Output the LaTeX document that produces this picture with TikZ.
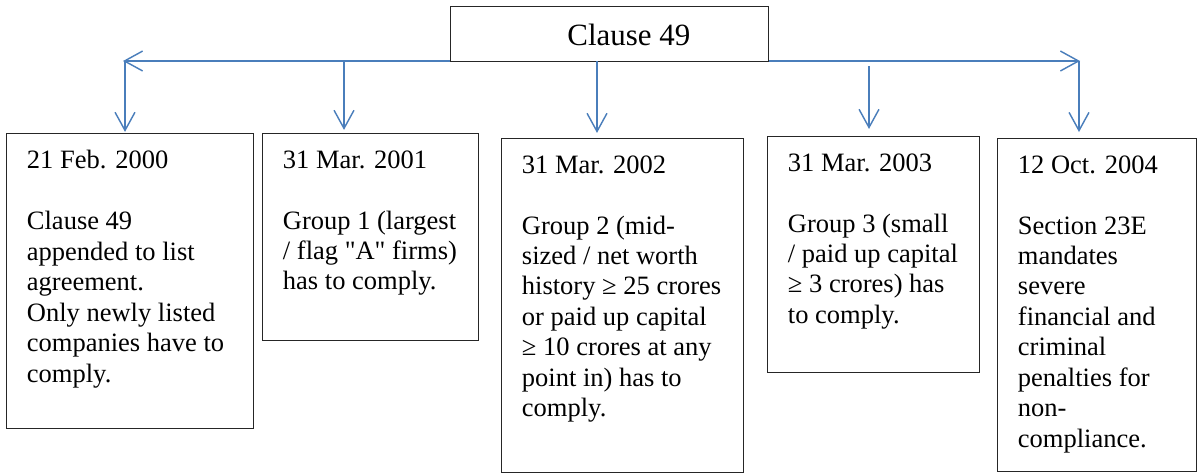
\documentclass[tikz,border=0pt]{standalone}
\usepackage{fontspec}
\setmainfont{Liberation Serif}
\usetikzlibrary{arrows.meta}
\definecolor{linkblue}{HTML}{4A7EBB}

\begin{document}
\begin{tikzpicture}[
  x=0.4528pt,y=-0.4528pt,
  flow/.style={-{Straight Barb[length=8.2pt,width=9pt]},line width=0.65pt,draw=linkblue},
  bus/.style={{Straight Barb[length=8.2pt,width=9pt]}-{Straight Barb[length=8.2pt,width=9pt]},line width=0.65pt,draw=linkblue},
  datebox/.style={draw=black!85,line width=0.5pt,fill=white,anchor=north west,inner sep=0pt},
  boxtext/.style={anchor=north west,align=left,inner sep=0pt,
    font=\fontsize{12}{13.8}\selectfont}
]
\useasboundingbox (0,0) rectangle (1198,473);
% bus line under the heading
\coordinate (busl) at (123,61);
\coordinate (busr) at (1080,61);
\draw[bus] (busl) -- (busr);
\node[draw=black!85,line width=0.5pt,fill=white,minimum width=143.7pt,minimum height=24.6pt,inner sep=0pt]
  (clause) at (609.4,34) {};
\node[anchor=base west,inner sep=0pt,font=\fontsize{14}{16}\selectfont] (cltext) at (567,45) {Clause 49};
% the five stages
\node[datebox,minimum width=111.8pt,minimum height=133.6pt] (feb00) at (6,133) {};
\node[datebox,minimum width=97.8pt,minimum height=93.7pt] (mar01) at (262,133) {};
\node[datebox,minimum width=109.6pt,minimum height=151.2pt] (mar02) at (501,138) {};
\node[datebox,minimum width=96pt,minimum height=106.9pt] (mar03) at (767,136) {};
\node[datebox,minimum width=90.1pt,minimum height=150.8pt] (oct04) at (997,138) {};
\node[boxtext] (feb00txt) at ([shift={(20.5,17)}]feb00.north west)
  {21 Feb. 2000\\[13.8pt]Clause 49\\appended to list\\agreement.\\Only newly listed\\companies have to\\comply.};
\node[boxtext] (mar01txt) at ([shift={(20.5,17)}]mar01.north west)
  {31 Mar. 2001\\[13.8pt]Group 1 (largest\\/ flag \textquotedbl A\textquotedbl{} firms)\\has to comply.};
\node[boxtext] (mar02txt) at ([shift={(20.5,17)}]mar02.north west)
  {31 Mar. 2002\\[13.8pt]Group 2 (mid-\\sized / net worth\\history ≥ 25 crores\\or paid up capital\\≥ 10 crores at any\\point in) has to\\comply.};
\node[boxtext] (mar03txt) at ([shift={(20.5,17)}]mar03.north west)
  {31 Mar. 2003\\[13.8pt]Group 3 (small\\/ paid up capital\\≥ 3 crores) has\\to comply.};
\node[boxtext] (oct04txt) at ([shift={(20.5,17)}]oct04.north west)
  {12 Oct. 2004\\[13.8pt]Section 23E\\mandates\\severe\\financial and\\criminal\\penalties for\\non-\\compliance.};
% drops from the bus
\coordinate (d1) at (125,61);
\coordinate (d2) at (344,61);
\coordinate (d3) at (597,61);
\coordinate (d4) at (869,66);
\coordinate (d5) at (1079,61);
\draw[flow,shorten >=0.5pt] (d1) -- (d1 |- feb00.north);
\draw[flow,shorten >=1.4pt] (d2) -- (d2 |- mar01.north);
\draw[flow,shorten >=2.3pt] (d3) -- (d3 |- mar02.north);
\draw[flow,shorten >=3.2pt] (d4) -- (d4 |- mar03.north);
\draw[flow,shorten >=2.7pt] (d5) -- (d5 |- oct04.north);
\end{tikzpicture}
\end{document}
